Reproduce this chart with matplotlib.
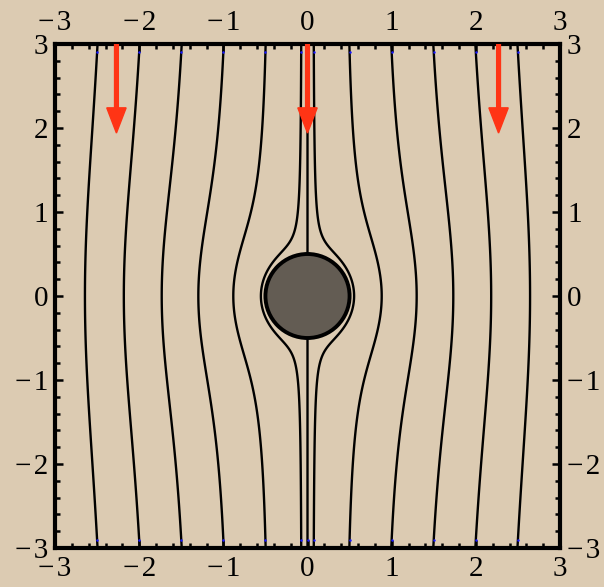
import numpy as np
import matplotlib.pyplot as plt
from matplotlib.patches import Circle
from matplotlib.ticker import MultipleLocator

# sphere radius and where each streamline is seeded (top and bottom edge)
sphere_radius = 0.5
seed_x = [-2.5, -2.0, -1.5, -1.0, -0.5, -0.075, 0.0, 0.075, 0.5, 1.0, 1.5, 2.0, 2.5]
seed_y = 2.9

# flow direction arrows along the top
arrow_x = [-2.27, 0.0, 2.27]
arrow_top = 3.0
arrow_tip = 1.94

ticks = [-3, -2, -1, 0, 1, 2, 3]
tick_labels = ["\u2212\u200a3", "\u2212\u200a2", "\u2212\u200a1", "0", "1", "2", "3"]

bg = "#dccbb2"


def stokes_psi(x, y, a):
    # Stokes stream function past a sphere, signed so x<0 gives negative levels
    r = np.hypot(x, y)
    return 0.5 * x * np.abs(x) * (1 - 1.5 * a / r + 0.5 * a**3 / r**3)


plt.rcParams["font.family"] = ["Liberation Serif", "DejaVu Serif"]

fig = plt.figure(figsize=(6.04, 5.87), dpi=100, facecolor=bg)
ax = fig.add_axes([55 / 604, 1 - 548 / 587, 505 / 604, 504 / 587])
ax.set_facecolor(bg)

g = np.linspace(-3.05, 3.05, 1401)
X, Y = np.meshgrid(g, g)
psi = stokes_psi(X, Y, sphere_radius)
psi = np.ma.masked_where(np.hypot(X, Y) < sphere_radius, psi)

levels = sorted({float(stokes_psi(np.array(sx), np.array(seed_y), sphere_radius)) for sx in seed_x})
ax.contour(X, Y, psi, levels=levels, colors="black", linewidths=1.7,
           linestyles="solid", zorder=2)

ax.add_patch(Circle((0, 0), sphere_radius, facecolor="#635c53", edgecolor="black",
                    linewidth=2.8, zorder=3))

for ax_x in arrow_x:
    ax.arrow(ax_x, arrow_top, 0, arrow_tip - arrow_top, width=0.045, head_width=0.23,
             head_length=0.3, length_includes_head=True, color="#ff3415", zorder=5)

ax.plot(seed_x, [seed_y] * len(seed_x), "o", color="#1a1aff", ms=1.8, mew=0, zorder=4)
ax.plot(seed_x, [-seed_y] * len(seed_x), "o", color="#1a1aff", ms=1.8, mew=0, zorder=4)

ax.set_xlim(-3, 3)
ax.set_ylim(-3, 3)
ax.set_xticks(ticks)
ax.set_xticklabels(tick_labels)
ax.set_yticks(ticks)
ax.set_yticklabels(tick_labels)
ax.xaxis.set_minor_locator(MultipleLocator(0.2))
ax.yaxis.set_minor_locator(MultipleLocator(0.2))
ax.tick_params(which="both", direction="in", top=True, right=True,
               labeltop=True, labelright=True, labelsize=21, width=1.8)
ax.tick_params(axis="x", which="major", pad=6)
ax.tick_params(axis="y", which="major", pad=5)
ax.tick_params(which="major", length=6)
ax.tick_params(which="minor", length=3.5)
for sp in ax.spines.values():
    sp.set_linewidth(3)

fig.savefig("out.png", dpi=100, facecolor=bg)
